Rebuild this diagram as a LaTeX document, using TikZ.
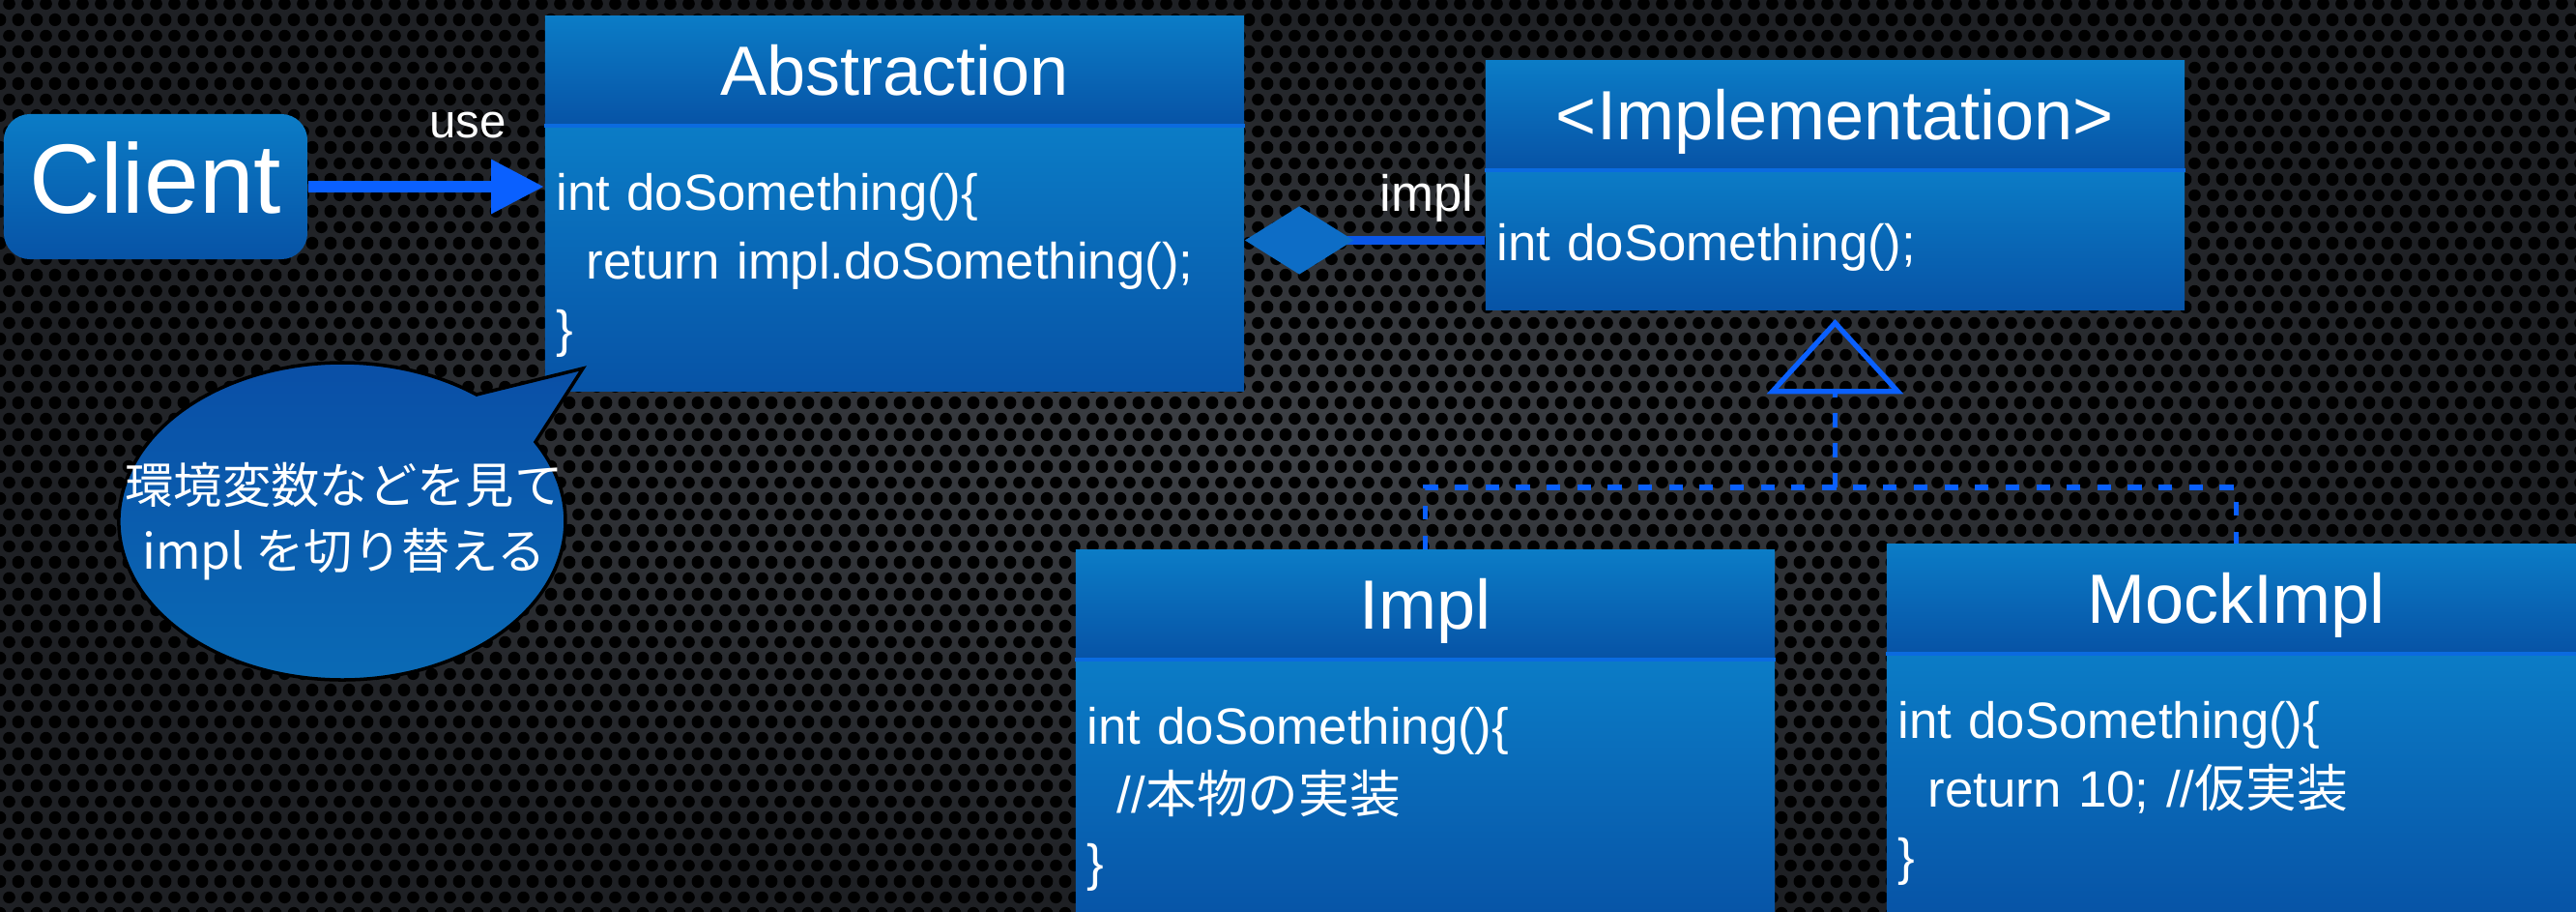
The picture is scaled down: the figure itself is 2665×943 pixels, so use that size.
\documentclass[tikz,border=0pt]{standalone}
\usepackage{fontspec}
\setmainfont{Liberation Sans}
\newfontfamily\jp{Noto Sans CJK JP}
\usetikzlibrary{arrows.meta,positioning,patterns}
\definecolor{bgin}{HTML}{3E4146}
\definecolor{bgout}{HTML}{1E2024}
\definecolor{boxtop}{HTML}{0B7CC6}
\definecolor{boxbot}{HTML}{0753A6}
\definecolor{divl}{HTML}{0B6BDF}
\definecolor{arr}{HTML}{0A60FF}
\definecolor{aggrln}{HTML}{0A56E8}
\definecolor{dia}{HTML}{0D6DC6}
\definecolor{bubtop}{HTML}{0A4EA6}
\definecolor{bubbot}{HTML}{0A6CB6}

\pgfdeclarepatternformonly{holes}{\pgfqpoint{0pt}{0pt}}{\pgfqpoint{5.4pt}{9.4pt}}{\pgfqpoint{5.4pt}{9.4pt}}{%
  \pgfpathcircle{\pgfqpoint{0pt}{0pt}}{1.8pt}%
  \pgfpathcircle{\pgfqpoint{5.4pt}{0pt}}{1.8pt}%
  \pgfpathcircle{\pgfqpoint{0pt}{9.4pt}}{1.8pt}%
  \pgfpathcircle{\pgfqpoint{5.4pt}{9.4pt}}{1.8pt}%
  \pgfpathcircle{\pgfqpoint{2.7pt}{4.7pt}}{1.8pt}%
  \pgfusepath{fill}}

\tikzset{
  cls/.style={inner sep=0pt, minimum width=7.23cm, top color=boxtop, bottom color=boxbot, text=white},
  clstitle/.style={cls, minimum height=1.12cm, text height=14.3pt, text depth=0pt, font=\fontsize{20.5}{24}\selectfont},
  clsbody/.style={cls, minimum height=2.74cm, text width=7.0cm, inner xsep=0.115cm, align=left, font=\fontsize{15}{20}\selectfont, execute at begin node={\rule{0pt}{14.8pt}}},
  divider/.style={draw=divl, line width=1.1pt},
  client/.style={rounded corners=7.7pt, minimum width=3.14cm, minimum height=1.5cm, inner sep=0pt, top color=boxtop, bottom color=boxbot, text=white, text height=20.8pt, text depth=5.2pt, font=\fontsize{29}{34}\selectfont},
  usearrow/.style={draw=arr, line width=3.6pt, -{Triangle[length=15.6pt,width=15pt]}},
  lbl/.style={text=white, font=\fontsize{15}{18}\selectfont},
  aggr/.style={draw=aggrln, line width=2.8pt, {Diamond[length=32pt,width=20pt,color=dia,fill=dia,line width=0pt]}-},
  gen/.style={draw=arr, line width=1.5pt, dash pattern=on 4.2pt off 4.6pt, -{Triangle[open,length=22pt,width=40pt]}, shorten >=2.5pt},
  dashln/.style={draw=arr, line width=1.6pt, dash pattern=on 4pt off 5pt},
  bubble/.style={draw=black, line width=1pt, top color=bubtop, bottom color=bubbot},
  note/.style={text=white, align=center, font=\jp\fontsize{14.3}{19.5}\selectfont}
}

\begin{document}
\begin{tikzpicture}[x=0.01cm,y=-0.01cm]
\useasboundingbox (0,0) rectangle (2665,943);
\clip (0,0) rectangle (2665,943);
\shade[inner color=bgin, outer color=bgout] (0,0) rectangle (2665,943);
\fill[pattern=holes, pattern color=black] (0,0) rectangle (2665,943);

\node[clstitle] (abst) at (925.5,73) {Abstraction};
\node[clsbody, below=0pt of abst] (absb) {int doSomething()\{\\\hspace*{9pt}return impl.doSomething();\\\}};
\node[clstitle] (implt) at (1898.5,119) {<Implementation>};
\node[clsbody, below=0pt of implt, minimum height=1.44cm] (implb) {int doSomething();};
\node[clstitle] (imt) at (1474.5,625) {Impl};
\node[clsbody, below=0pt of imt] (imb) {int doSomething()\{\\\hspace*{9pt}//{\jp 本物の実装}\\\}};
\node[clstitle] (mockt) at (2313.5,619) {MockImpl};
\node[clsbody, below=0pt of mockt] (mockb) {int doSomething()\{\\\hspace*{9pt}return 10; //{\jp 仮実装}\\\}};
\foreach \b in {absb,implb,imb,mockb}
  \draw[divider] (\b.north west) -- (\b.north east);

\node[client] (client) at (161,193) {Client};
\draw[usearrow] (client.east) -- (client.east -| absb.west);
\node[lbl, font=\fontsize{14}{17}\selectfont] (uselbl) at (484,130) {use};

\draw[aggr] (absb.east |- implb.west) -- (implb.west);
\node[lbl] (impllbl) at (1476,205) {impl};

\coordinate (fork) at (1898.5,504);
\draw[gen] (fork) -- (implb.south);
\draw[dashln] (imt.north) |- (fork) -| (mockt.north);

\draw[bubble] (493,408) -- (603,381) -- (554,457) arc[start angle=-30, end angle=307, x radius=231, y radius=164] -- cycle;
\node[note] (note) at (356,539) {環境変数などを見て\\impl を切り替える};
\end{tikzpicture}
\end{document}
